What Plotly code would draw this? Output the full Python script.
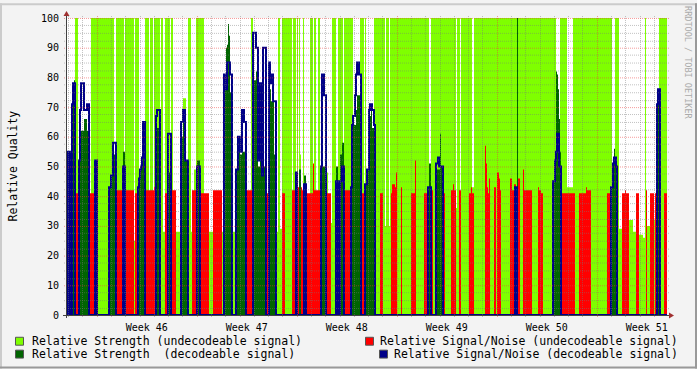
import plotly.graph_objects as go

# ---------------- data ----------------
SAMPLE_HOURS = 1.68          # one consolidated row per sample
N_SAMPLES = 600
T_END = N_SAMPLES * SAMPLE_HOURS

week_labels = ["Week 46", "Week 47", "Week 48", "Week 49", "Week 50", "Week 51"]
week_label_hours = [134, 302, 470, 638, 806, 974]   # mid-week positions (hours from start)
first_midnight_hour = 2
first_monday_hour = 50
y_ticks = [0, 10, 20, 30, 40, 50, 60, 70, 80, 90, 100]

# (start sample, value) steps; each value holds until the next start
strength_undecodeable = [
    (0, 0), (8, 100), (11, 0), (24, 100), (47, 0), (49, 100), (57, 0), (58, 100), (67, 25), (68, 100),
    (72, 0), (78, 100), (82, 27), (83, 100), (86, 27), (87, 100), (93, 0), (94, 100), (96, 28), (98, 100),
    (103, 0), (104, 100), (106, 28), (116, 73), (119, 28), (121, 100), (124, 28), (127, 49), (129, 100), (137, 28),
    (184, 100), (186, 28), (211, 100), (213, 29), (215, 100), (225, 29), (226, 100), (229, 29), (230, 100), (231, 29),
    (232, 100), (233, 54), (234, 29), (236, 100), (237, 29), (243, 100), (246, 29), (247, 100), (249, 29), (251, 100),
    (253, 29), (260, 48), (261, 31), (265, 100), (269, 31), (271, 100), (276, 31), (277, 100), (286, 0), (293, 100),
    (297, 27), (298, 100), (299, 27), (307, 100), (318, 30), (319, 100), (322, 30), (323, 100), (362, 0), (364, 100),
    (389, 36), (390, 100), (393, 32), (394, 100), (405, 43), (407, 100), (489, 0), (493, 100), (500, 43), (506, 100),
    (545, 0), (548, 100), (552, 29), (562, 32), (566, 28), (572, 27), (576, 26), (578, 100), (579, 27), (580, 30),
    (587, 32), (590, 0), (592, 100),
]

snr_undecodeable = [
    (0, 41), (1, 0), (3, 41), (5, 0), (8, 41), (12, 0), (22, 41), (28, 0), (41, 42), (42, 0),
    (49, 42), (56, 0), (58, 42), (67, 0), (68, 41), (71, 0), (78, 42), (87, 43), (89, 0), (93, 42),
    (94, 0), (98, 41), (101, 0), (104, 42), (109, 0), (125, 42), (129, 0), (134, 41), (142, 0), (146, 42),
    (155, 0), (179, 42), (186, 0), (199, 41), (202, 0), (215, 41), (218, 0), (225, 42), (229, 0), (230, 43),
    (232, 0), (234, 43), (235, 42), (237, 0), (240, 41), (246, 51), (247, 42), (254, 0), (259, 41), (264, 0),
    (268, 41), (271, 42), (273, 0), (277, 42), (284, 0), (294, 41), (297, 0), (313, 41), (316, 0), (324, 41),
    (325, 44), (328, 43), (329, 48), (330, 0), (334, 43), (335, 0), (344, 41), (348, 52), (349, 0), (357, 41),
    (361, 43), (362, 0), (364, 42), (366, 0), (376, 41), (378, 0), (384, 42), (386, 44), (387, 42), (389, 0),
    (392, 42), (394, 0), (402, 41), (404, 43), (405, 41), (407, 0), (418, 57), (419, 51), (420, 43), (421, 41),
    (422, 46), (423, 0), (427, 43), (429, 0), (430, 48), (432, 46), (433, 42), (434, 0), (443, 46), (445, 42),
    (447, 44), (449, 0), (450, 46), (453, 0), (456, 49), (457, 42), (465, 0), (471, 43), (472, 42), (474, 41),
    (476, 0), (494, 41), (508, 0), (512, 41), (519, 43), (520, 42), (524, 0), (540, 41), (544, 0), (550, 41),
    (551, 0), (555, 41), (558, 42), (559, 41), (562, 0), (569, 41), (572, 0), (579, 42), (580, 0), (583, 41),
    (587, 0), (588, 41), (589, 0), (597, 41),
]

strength_decodeable = [
    (0, 0), (1, 47), (3, 0), (5, 71), (6, 78), (7, 79), (8, 0), (12, 52), (13, 62), (17, 66),
    (20, 62), (22, 0), (28, 47), (30, 0), (42, 43), (44, 47), (46, 54), (49, 0), (56, 55), (58, 0),
    (71, 43), (72, 46), (73, 49), (74, 50), (75, 53), (76, 62), (78, 0), (89, 63), (93, 0), (101, 48),
    (104, 0), (114, 60), (116, 69), (118, 52), (121, 0), (129, 48), (130, 52), (133, 48), (134, 0), (157, 81),
    (159, 90), (160, 91), (161, 98), (162, 94), (163, 75), (165, 0), (169, 49), (171, 58), (173, 54), (175, 55),
    (179, 0), (186, 79), (189, 82), (191, 50), (193, 75), (195, 47), (196, 50), (199, 0), (202, 70), (203, 76),
    (204, 72), (207, 54), (209, 0), (229, 48), (230, 0), (232, 49), (234, 0), (237, 47), (239, 0), (254, 50),
    (259, 0), (269, 50), (271, 0), (273, 54), (275, 58), (277, 0), (284, 43), (285, 64), (289, 69), (290, 74),
    (293, 64), (294, 0), (298, 44), (300, 49), (301, 67), (304, 69), (305, 63), (308, 0), (362, 51), (364, 0),
    (369, 49), (373, 61), (374, 50), (376, 0), (450, 100), (451, 0), (486, 45), (488, 52), (489, 82), (490, 81),
    (491, 76), (492, 66), (493, 55), (494, 0), (544, 43), (546, 51), (547, 56), (548, 53), (549, 48), (550, 0),
    (590, 70), (591, 71), (593, 0),
]

snr_decodeable = [
    (0, 0), (1, 55), (3, 0), (5, 71), (6, 78), (8, 0), (12, 52), (13, 69), (14, 78), (17, 69),
    (20, 71), (22, 0), (28, 52), (30, 0), (42, 43), (44, 47), (46, 58), (49, 0), (56, 50), (58, 0),
    (71, 43), (72, 46), (73, 49), (74, 50), (75, 53), (76, 65), (78, 0), (89, 67), (90, 69), (93, 0),
    (101, 61), (104, 0), (114, 65), (116, 69), (118, 52), (121, 0), (130, 50), (133, 0), (157, 81), (159, 76),
    (160, 85), (163, 81), (165, 0), (169, 49), (171, 60), (173, 55), (175, 69), (177, 65), (179, 0), (186, 95),
    (189, 90), (191, 52), (193, 78), (195, 47), (196, 90), (199, 0), (202, 85), (203, 78), (204, 81), (206, 72),
    (209, 0), (229, 48), (230, 0), (237, 44), (239, 0), (254, 50), (255, 81), (257, 74), (259, 0), (269, 45),
    (271, 0), (273, 45), (275, 50), (277, 0), (284, 43), (285, 64), (286, 67), (288, 74), (289, 81), (290, 85),
    (292, 81), (294, 0), (298, 44), (300, 49), (302, 69), (303, 71), (305, 69), (307, 64), (308, 0), (361, 43),
    (364, 0), (369, 51), (371, 53), (372, 50), (376, 0), (448, 43), (450, 0), (486, 45), (488, 52), (489, 55),
    (490, 61), (492, 50), (494, 0), (544, 43), (546, 51), (547, 53), (549, 50), (550, 0), (590, 71), (591, 76),
    (593, 0),
]

legend_names = [
    "Relative Strength (undecodeable signal)",
    "Relative Signal/Noise (undecodeable signal)",
    "Relative Strength \u00a0(decodeable signal)",
    "Relative Signal/Noise (decodeable signal)",
]

# ---------------- style ----------------
C_LG = "#7FFF00"
C_R = "#FF0000"
C_DG = "#006400"
C_B = "#000088"
FONT = "DejaVu Sans Mono"
W, H = 697, 369
L, R, T, B = 67, 30, 15, 54
PLOT_W = W - L - R
PLOT_H = H - T - B


def steps(pairs):
    xs, ys = [], []
    for s, v in pairs:
        xs.append(s * SAMPLE_HOURS)
        ys.append(v)
    xs.append(T_END)
    ys.append(pairs[-1][1])
    return xs, ys


def PX(px):
    return (px - L) / PLOT_W


def PY(py):
    return (H - B - py) / PLOT_H


fig = go.Figure()
for pairs, col, filled in [(strength_undecodeable, C_LG, True),
                           (snr_undecodeable, C_R, True),
                           (strength_decodeable, C_DG, True),
                           (snr_decodeable, C_B, False)]:
    xs, ys = steps(pairs)
    if filled:
        fig.add_trace(go.Scatter(x=xs, y=ys, mode="lines", line=dict(shape="hv", width=0, color=col),
                                 fill="tozeroy", fillcolor=col, hoverinfo="skip", showlegend=False))
    else:
        fig.add_trace(go.Scatter(x=xs, y=ys, mode="lines", line=dict(shape="hv", width=2, color=col),
                                 hoverinfo="skip", showlegend=False))

shapes = []
GRID = "rgba(120,120,120,0.45)"
MGRID = "rgba(240,60,60,0.5)"
DASH = "1px,1px"
# vertical grid (daily / weekly), snapped to pixel centres
h = first_midnight_hour
while h < T_END:
    major = (h - first_monday_hour) % 168 == 0
    px = round(L + h / SAMPLE_HOURS) + 0.5
    shapes.append(dict(type="line", xref="paper", yref="paper", x0=PX(px), x1=PX(px), y0=PY(317), y1=PY(13),
                       line=dict(color=MGRID if major else GRID, width=1, dash=DASH), layer="above"))
    h += 24
# horizontal grid
v = 2.5
while v <= 100:
    major = abs(v % 10) < 1e-9
    py = round(H - B - v * PLOT_H / 100) + 0.5
    shapes.append(dict(type="line", xref="paper", yref="paper", x0=PX(64), x1=PX(669), y0=PY(py), y1=PY(py),
                       line=dict(color=MGRID if major else GRID, width=1, dash=DASH), layer="above"))
    v += 2.5
# axes
AX = "#404040"
ARROW = "#A03030"
shapes.append(dict(type="line", xref="paper", yref="paper", x0=PX(66.5), x1=PX(66.5), y0=PY(318), y1=PY(12),
                   line=dict(color=AX, width=1), layer="above"))
shapes.append(dict(type="line", xref="paper", yref="paper", x0=PX(63), x1=PX(670), y0=PY(315.5), y1=PY(315.5),
                   line=dict(color=AX, width=1), layer="above"))
shapes.append(dict(type="path", xref="paper", yref="paper",
                   path=f"M {PX(66.5)},{PY(8)} L {PX(63.5)},{PY(13)} L {PX(69.5)},{PY(13)} Z",
                   fillcolor=ARROW, line=dict(width=0), layer="above"))
shapes.append(dict(type="path", xref="paper", yref="paper",
                   path=f"M {PX(674)},{PY(315.5)} L {PX(669)},{PY(312.5)} L {PX(669)},{PY(318.5)} Z",
                   fillcolor=ARROW, line=dict(width=0), layer="above"))
# 3D frame
shapes += [
    dict(type="rect", xref="paper", yref="paper", x0=PX(0), x1=PX(W), y0=PY(0), y1=PY(2),
         fillcolor="#CBCBCB", line=dict(width=0)),
    dict(type="rect", xref="paper", yref="paper", x0=PX(0), x1=PX(2), y0=PY(0), y1=PY(H),
         fillcolor="#CBCBCB", line=dict(width=0)),
    dict(type="rect", xref="paper", yref="paper", x0=PX(0), x1=PX(W), y0=PY(H - 2), y1=PY(H),
         fillcolor="#999999", line=dict(width=0)),
    dict(type="rect", xref="paper", yref="paper", x0=PX(W - 2), x1=PX(W), y0=PY(0), y1=PY(H),
         fillcolor="#999999", line=dict(width=0)),
]

# legend
legend_boxes = [(15, 337, C_LG), (365, 337, C_R), (15, 350, C_DG), (379, 350, C_B)]
annotations = []
for (bx, by, col) in legend_boxes:
    shapes.append(dict(type="rect", xref="paper", yref="paper", x0=PX(bx + 0.5), x1=PX(bx + 8.5),
                       y0=PY(by + 8.5), y1=PY(by + 0.5),
                       fillcolor=col, line=dict(color="#555555", width=1)))
legend_text_pos = [(30, 341.5, "left"), (680, 341.5, "right"), (30, 354.5, "left"), (680, 354.5, "right")]
for name, (tx, ty, anc) in zip(legend_names, legend_text_pos):
    annotations.append(dict(text=name, xref="paper", yref="paper", x=PX(tx), y=PY(ty), xanchor=anc,
                            yanchor="middle", showarrow=False, font=dict(family=FONT, size=11.5, color="#000")))
annotations.append(dict(text="Relative Quality", xref="paper", yref="paper", x=PX(12), y=0.5, textangle=-90,
                        xanchor="center", yanchor="middle", showarrow=False,
                        font=dict(family=FONT, size=11.5, color="#000")))
annotations.append(dict(text="RRDTOOL / TOBI OETIKER", xref="paper", yref="paper", x=PX(688.5), y=PY(60),
                        textangle=90, xanchor="center", yanchor="middle", showarrow=False,
                        font=dict(family=FONT, size=8.5, color="#AAAAAA")))

fig.update_layout(
    width=W, height=H,
    margin=dict(l=L, r=R, t=T, b=B, pad=0),
    paper_bgcolor="#F3F3F3",
    plot_bgcolor="#FFFFFF",
    font=dict(family=FONT, size=10, color="#000"),
    showlegend=False,
    shapes=shapes,
    annotations=annotations,
    xaxis=dict(range=[0, T_END], showgrid=False, zeroline=False, showline=False,
               tickmode="array", tickvals=week_label_hours, ticktext=week_labels,
               ticks="outside", ticklen=3, tickcolor="rgba(0,0,0,0)",
               tickfont=dict(family=FONT, size=10, color="#000"), fixedrange=True),
    yaxis=dict(range=[0, 100], showgrid=False, zeroline=False, showline=False,
               tickmode="array", tickvals=y_ticks, ticktext=[str(t) for t in y_ticks],
               ticks="outside", ticklen=5, tickcolor="rgba(0,0,0,0)",
               tickfont=dict(family=FONT, size=10, color="#000"), fixedrange=True),
)

fig.write_html("out.html")
